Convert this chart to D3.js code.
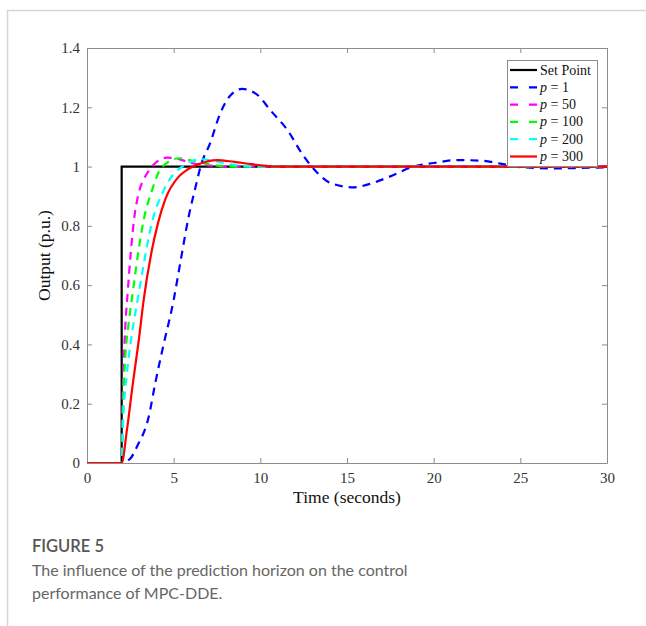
<!DOCTYPE html>
<html>
<head>
<meta charset="utf-8">
<script src="https://cdn.jsdelivr.net/npm/d3@7"></script>
<style>
  body { margin: 0; background: #fff; }
  svg { display: block; }
</style>
</head>
<body>
<div id="chart"></div>
<script>
// step response data (time in s, output in p.u.)
const setPointT = [0, 2, 2, 30];
const setPointV = [0, 0, 1, 1];

const p1T = [0, 2, 2.5, 2.88, 3.56, 3.94, 4.42, 5.0, 5.38, 5.86, 6.3, 6.55, 7.11, 7.69, 8.27, 8.94, 9.81, 10.58, 11.54, 12.5, 13.27, 14.04, 15.38, 16.5, 17.5, 18.85, 20.0, 21.35, 22.7, 23.85, 25, 27, 29, 30];
const p1V = [0, 0, 0.015, 0.055, 0.156, 0.27, 0.40, 0.55, 0.675, 0.83, 0.94, 1.0, 1.08, 1.18, 1.24, 1.262, 1.243, 1.19, 1.125, 1.035, 0.98, 0.945, 0.93, 0.945, 0.967, 1.0, 1.012, 1.022, 1.02, 1.01, 0.998, 0.994, 0.996, 0.998];

const p50T = [0, 2, 2.05, 2.13, 2.2, 2.34, 2.54, 2.69, 2.98, 3.3, 3.61, 4.0, 4.6, 5.3, 6.0, 7.0, 8.0, 30];
const p50V = [0, 0, 0.2, 0.35, 0.45, 0.57, 0.72, 0.81, 0.91, 0.96, 0.99, 1.015, 1.03, 1.025, 1.012, 1.004, 1.0, 1.0];

const p100T = [0, 2, 2.08, 2.2, 2.4, 2.65, 2.98, 3.27, 3.75, 4.13, 4.6, 5.3, 6.2, 7.2, 8.5, 30];
const p100V = [0, 0, 0.2, 0.35, 0.47, 0.58, 0.72, 0.82, 0.92, 0.98, 1.012, 1.028, 1.018, 1.006, 1.0, 1.0];

const p200T = [0, 2, 2.1, 2.3, 2.6, 2.95, 3.3, 3.7, 4.42, 5.0, 5.5, 6.5, 7.5, 8.5, 10, 30];
const p200V = [0, 0, 0.16, 0.3, 0.44, 0.56, 0.68, 0.8, 0.92, 0.975, 1.0, 1.025, 1.017, 1.006, 1.0, 1.0];

const p300T = [0, 2, 2.3, 2.65, 3.0, 3.27, 3.75, 4.1, 4.52, 5.29, 5.8, 6.35, 7.5, 8.5, 9.5, 11, 30];
const p300V = [0, 0, 0.11, 0.27, 0.42, 0.55, 0.72, 0.81, 0.89, 0.966, 0.99, 1.006, 1.022, 1.016, 1.008, 1.0, 1.0];

const seriesNames = ["Set Point", "p = 1", "p = 50", "p = 100", "p = 200", "p = 300"];
const seriesColors = ["#000000", "#0000ff", "#ff00ff", "#00ff00", "#00ffff", "#ff0000"];
const seriesDashed = [false, true, true, true, true, false];

const xTicks = [0, 5, 10, 15, 20, 25, 30];
const yTicks = [0, 0.2, 0.4, 0.6, 0.8, 1, 1.2, 1.4];

const width = 646;
const height = 626;
const plot = {left: 87, right: 607, top: 48, bottom: 463};

const svg = d3.select("#chart")
    .append("svg")
    .attr("width", width)
    .attr("height", height);

// card border (top + left)
svg.append("path")
    .attr("d", `M7.5,${height} V10.5 H${width}`)
    .attr("fill", "none")
    .attr("stroke", "#d6d6d6")
    .attr("stroke-width", 1.5);

const x = d3.scaleLinear().domain([0, 30]).range([plot.left, plot.right]);
const y = d3.scaleLinear().domain([0, 1.4]).range([plot.bottom, plot.top]);

svg.append("clipPath").attr("id", "clip")
    .append("rect")
    .attr("x", plot.left).attr("y", plot.top)
    .attr("width", plot.right - plot.left).attr("height", plot.bottom - plot.top);

const axisColor = "#8c8c8c";
const serif = "'Liberation Serif', 'Times New Roman', serif";

// axes, ticks pointing inwards (MATLAB style, box on)
const fmt = d => d3.format("~g")(d);
const gx = svg.append("g").attr("transform", `translate(0,${plot.bottom})`)
    .call(d3.axisBottom(x).tickValues(xTicks).tickFormat(fmt).tickSizeInner(-5).tickSizeOuter(0).tickPadding(9));
const gy = svg.append("g").attr("transform", `translate(${plot.left},0)`)
    .call(d3.axisLeft(y).tickValues(yTicks).tickFormat(fmt).tickSizeInner(-5).tickSizeOuter(0).tickPadding(7));
const gxTop = svg.append("g").attr("transform", `translate(0,${plot.top})`)
    .call(d3.axisTop(x).tickValues(xTicks).tickFormat("").tickSizeInner(-5).tickSizeOuter(0));
const gyRight = svg.append("g").attr("transform", `translate(${plot.right},0)`)
    .call(d3.axisRight(y).tickValues(yTicks).tickFormat("").tickSizeInner(-5).tickSizeOuter(0));

[gx, gy, gxTop, gyRight].forEach(g => {
    g.attr("font-family", serif).attr("font-size", 15);
    g.select(".domain").attr("stroke", axisColor);
    g.selectAll(".tick line").attr("stroke", axisColor);
    g.selectAll(".tick text").attr("fill", "#333");
});

// axis labels
svg.append("text")
    .attr("x", (plot.left + plot.right) / 2)
    .attr("y", 503)
    .attr("text-anchor", "middle")
    .attr("font-family", serif)
    .attr("font-size", 17.5)
    .attr("fill", "#111")
    .text("Time (seconds)");

svg.append("text")
    .attr("transform", `translate(50,${(plot.top + plot.bottom) / 2}) rotate(-90)`)
    .attr("text-anchor", "middle")
    .attr("font-family", serif)
    .attr("font-size", 17.5)
    .attr("fill", "#111")
    .text("Output (p.u.)");

// lines
const seriesT = [setPointT, p1T, p50T, p100T, p200T, p300T];
const seriesV = [setPointV, p1V, p50V, p100V, p200V, p300V];

const line = d3.line()
    .x(d => x(d[0]))
    .y(d => y(d[1]))
    .curve(d3.curveMonotoneX);
const stepLine = d3.line()
    .x(d => x(d[0]))
    .y(d => y(d[1]));

const linesG = svg.append("g").attr("clip-path", "url(#clip)");
seriesT.forEach((ts, i) => {
    const pts = ts.map((t, j) => [t, seriesV[i][j]]);
    linesG.append("path")
        .attr("d", i === 0 ? stepLine(pts) : line(pts))
        .attr("fill", "none")
        .attr("stroke", seriesColors[i])
        .attr("stroke-width", 2.2)
        .attr("stroke-dasharray", seriesDashed[i] ? "8,6" : null);
});

// legend
const legend = {x: 507, y: 60, w: 90, h: 106, row: 17.3};
const lg = svg.append("g");
lg.append("rect")
    .attr("x", legend.x + 0.5).attr("y", legend.y + 0.5)
    .attr("width", legend.w).attr("height", legend.h)
    .attr("fill", "#fff")
    .attr("stroke", axisColor);

seriesNames.forEach((name, i) => {
    const cy = legend.y + 10 + i * legend.row;
    lg.append("line")
        .attr("x1", legend.x + 3).attr("x2", legend.x + 30)
        .attr("y1", cy).attr("y2", cy)
        .attr("stroke", seriesColors[i])
        .attr("stroke-width", 2.2)
        .attr("stroke-dasharray", seriesDashed[i] ? "8,11" : null);
    const t = lg.append("text")
        .attr("x", legend.x + 33).attr("y", cy + 4.5)
        .attr("font-family", serif)
        .attr("font-size", 14)
        .attr("fill", "#111");
    if (i === 0) {
        t.text(name);
    } else {
        t.append("tspan").attr("font-style", "italic").text("p");
        t.append("tspan").text(name.slice(1));
    }
});

// caption
const capFont = "Lato, 'Open Sans', sans-serif";
svg.append("text")
    .attr("x", 32).attr("y", 552)
    .attr("font-family", capFont)
    .attr("font-size", 16.5)
    .attr("font-weight", 600)
    .attr("fill", "#555")
    .text("FIGURE 5");

const captionLines = [
    "The influence of the prediction horizon on the control",
    "performance of MPC-DDE."
];
captionLines.forEach((s, i) => {
    svg.append("text")
        .attr("x", 32).attr("y", 576 + i * 23)
        .attr("font-family", capFont)
        .attr("font-size", 16)
        .attr("fill", "#666")
        .text(s);
});
</script>
</body>
</html>
